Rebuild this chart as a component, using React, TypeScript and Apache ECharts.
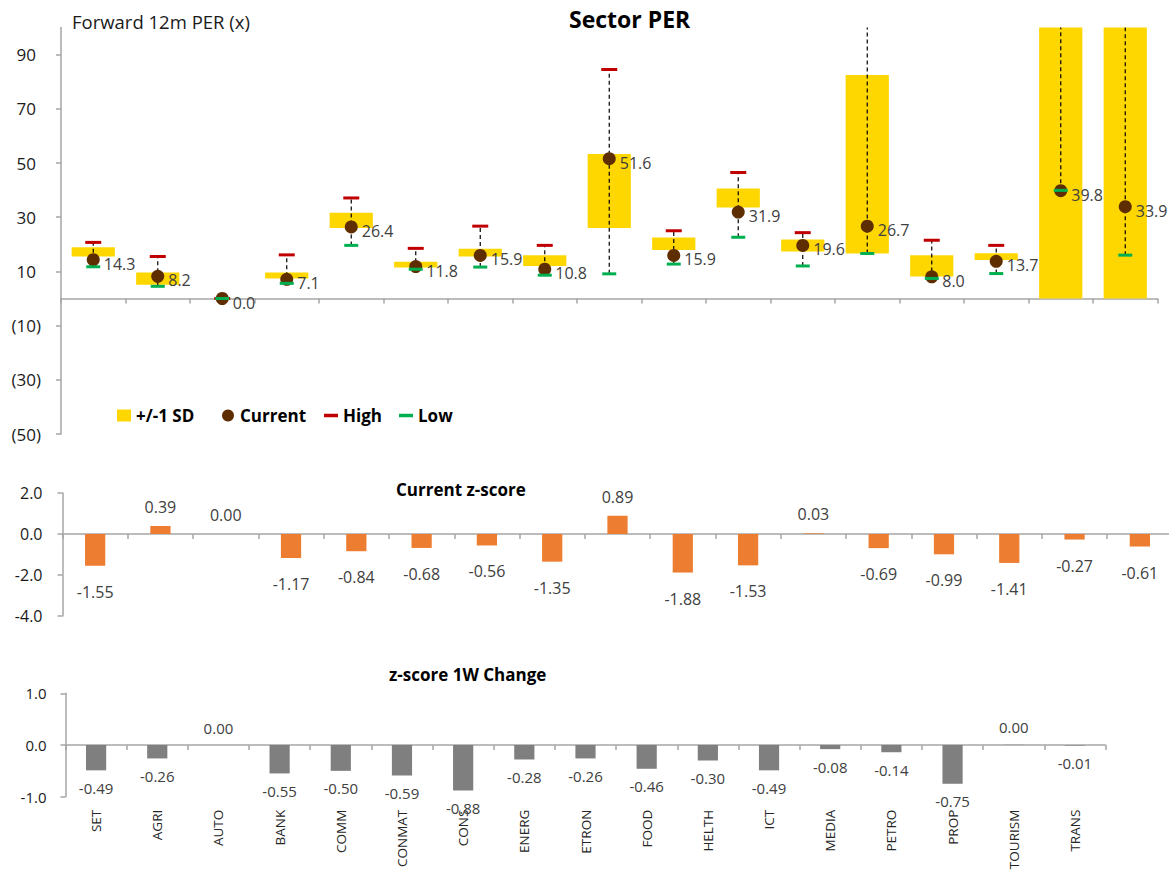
import React, { useEffect, useRef } from 'react';
import * as echarts from 'echarts';

const categories = ['SET', 'AGRI', 'AUTO', 'BANK', 'COMM', 'CONMAT', 'CONS', 'ENERG', 'ETRON', 'FOOD', 'HELTH', 'ICT', 'MEDIA', 'PETRO', 'PROP', 'TOURISM', 'TRANS'];
const currentPer = [14.3, 8.2, 0.0, 7.1, 26.4, 11.8, 15.9, 10.8, 51.6, 15.9, 31.9, 19.6, 26.7, 8.0, 13.7, 39.8, 33.9];
const sdLower = [15.5, 5.1, 0, 7.4, 26.0, 11.4, 15.5, 12.0, 26.0, 17.9, 33.6, 17.3, 16.6, 8.1, 14.2, -30, -25];
const sdUpper = [18.9, 9.6, 0, 9.6, 31.6, 13.6, 18.4, 16.0, 53.3, 22.5, 40.6, 21.8, 82.5, 16.0, 16.7, 130, 120];
const highPer = [20.7, 15.5, 0, 16.1, 37.1, 18.5, 26.7, 19.6, 84.5, 25.0, 46.5, 24.3, 150, 21.5, 19.6, 180, 160];
const lowPer = [11.7, 4.5, 0, 5.6, 19.6, 10.8, 11.6, 8.6, 9.1, 12.7, 22.6, 12.0, 16.6, 7.4, 9.2, 39.9, 16.0];
const zScore = [-1.55, 0.39, 0.0, -1.17, -0.84, -0.68, -0.56, -1.35, 0.89, -1.88, -1.53, 0.03, -0.69, -0.99, -1.41, -0.27, -0.61];
const zChange = [-0.49, -0.26, 0.0, -0.55, -0.5, -0.59, -0.88, -0.28, -0.26, -0.46, -0.3, -0.49, -0.08, -0.14, -0.75, 0.004, -0.01];
const perTicks = [-50, -30, -10, 10, 30, 50, 70, 90];
const legendNames = ['+/-1 SD', 'Current', 'High', 'Low'];
const PER_MIN = -50;
const PER_MAX = 100;

const FONT = "'Open Sans', sans-serif";
const AXIS_COLOR = '#A6A6A6';
const LABEL_COLOR = '#404040';

export default function App() {
  const ref = useRef<HTMLDivElement>(null);

  useEffect(() => {
    if (!ref.current) return;
    const chart = echarts.init(ref.current, null, { renderer: 'svg' });

    const axisLine = { show: true, lineStyle: { color: AXIS_COLOR, width: 1.5 } };
    const axisTick = { show: true, length: 5, lineStyle: { color: AXIS_COLOR, width: 1.5 } };
    const legendText = { fontFamily: FONT, fontSize: 17, fontWeight: 'bold', color: '#000' };
    const lineIcon = 'path://M0,0 L10,0 L10,2.5 L0,2.5 Z';
    const legendIcons = ['rect', 'circle', lineIcon, lineIcon];
    const legendLefts = [117, 222, 324, 399];

    const option: any = {
      animation: false,
      textStyle: { fontFamily: FONT },
      title: [
        { text: 'Sector PER', left: 569, top: 7, padding: 0, textStyle: { fontFamily: FONT, fontSize: 23, fontWeight: 'bold', color: '#000' } },
        { text: 'Forward 12m PER (x)', left: 72, top: 12, padding: 0, textStyle: { fontFamily: FONT, fontSize: 18.5, fontWeight: 'normal', color: '#1a1a1a' } },
        { text: 'Current z-score', left: 396, top: 481, padding: 0, textStyle: { fontFamily: FONT, fontSize: 17, fontWeight: 'bold', color: '#000' } },
        { text: 'z-score 1W Change', left: 389, top: 666, padding: 0, textStyle: { fontFamily: FONT, fontSize: 17, fontWeight: 'bold', color: '#000' } },
      ],
      legend: legendNames.map((name, i) => ({
        left: legendLefts[i],
        top: 407,
        padding: 0,
        itemWidth: 14,
        itemHeight: 12,
        textStyle: legendText,
        data: [{ name, icon: legendIcons[i] }],
      })),
      grid: [
        { left: 61, top: 27.5, width: 1096.5, height: 406.5, outerBoundsMode: 'none' },
        { left: 62.5, top: 493, width: 1110, height: 123, outerBoundsMode: 'none' },
        { left: 65.5, top: 693.3, width: 1040, height: 103.4, outerBoundsMode: 'none' },
      ],
      xAxis: [
        {
          type: 'category', gridIndex: 0, data: categories, boundaryGap: true,
          axisLine: { ...axisLine, onZero: true },
          axisTick: { ...axisTick, interval: 0 },
          axisLabel: { show: false, interval: 0 },
          splitLine: { show: false },
        },
        {
          type: 'category', gridIndex: 1, data: categories, boundaryGap: true,
          axisLine: { ...axisLine, onZero: true },
          axisTick: { ...axisTick, interval: 0 },
          axisLabel: { show: false, interval: 0 },
          splitLine: { show: false },
        },
        {
          type: 'category', gridIndex: 2, data: categories, boundaryGap: true,
          axisLine: { ...axisLine, onZero: true },
          axisTick: { ...axisTick, interval: 0 },
          axisLabel: { show: true, interval: 0, rotate: 90, margin: 13, fontFamily: FONT, fontSize: 13.5, color: '#262626' },
          splitLine: { show: false },
        },
      ],
      yAxis: [
        {
          type: 'value', gridIndex: 0, min: PER_MIN, max: PER_MAX,
          axisLine,
          axisTick: { ...axisTick, customValues: perTicks },
          axisLabel: {
            customValues: perTicks,
            margin: 20,
            fontFamily: FONT, fontSize: 17, color: '#1a1a1a',
            formatter: (v: number) => (v < 0 ? `(${-v})` : `{p|${v}}`),
            rich: { p: { padding: [0, 5, 0, 0], fontFamily: FONT, fontSize: 17, color: '#1a1a1a' } },
          },
          splitLine: { show: false },
        },
        {
          type: 'value', gridIndex: 1, min: -4, max: 2, interval: 2,
          axisLine, axisTick,
          axisLabel: { margin: 20, fontFamily: FONT, fontSize: 16, color: '#1a1a1a', formatter: (v: number) => v.toFixed(1) },
          splitLine: { show: false },
        },
        {
          type: 'value', gridIndex: 2, min: -1, max: 1, interval: 1,
          axisLine, axisTick,
          axisLabel: { margin: 19, fontFamily: FONT, fontSize: 15, color: '#1a1a1a', formatter: (v: number) => v.toFixed(1) },
          splitLine: { show: false },
        },
      ],
      series: [
        {
          name: 'sdBase', type: 'bar', xAxisIndex: 0, yAxisIndex: 0, stack: 'sd',
          data: sdLower, barWidth: '67%', itemStyle: { color: 'rgba(0,0,0,0)' },
          silent: true, z: 2, clip: true,
        },
        {
          name: '+/-1 SD', type: 'bar', xAxisIndex: 0, yAxisIndex: 0, stack: 'sd',
          data: sdUpper.map((u, i) => +(u - sdLower[i]).toFixed(2)), barWidth: '67%',
          itemStyle: { color: '#FFD700' }, z: 2, clip: true,
        },
        {
          name: 'range', type: 'custom', xAxisIndex: 0, yAxisIndex: 0,
          data: categories.map((c, i) => [i, lowPer[i], highPer[i]]),
          encode: { x: 0, y: [1, 2] },
          silent: true, z: 3,
          renderItem: (params: any, api: any) => {
            const i = api.value(0);
            const lo = Math.max(api.value(1), PER_MIN);
            const hi = Math.min(api.value(2), PER_MAX);
            const p1 = api.coord([i, lo]);
            const p2 = api.coord([i, hi]);
            return {
              type: 'line',
              shape: { x1: p1[0], y1: p1[1], x2: p2[0], y2: p2[1] },
              style: { stroke: '#000', lineWidth: 1.2, lineDash: [4, 3] },
            };
          },
        },
        {
          name: 'Current', type: 'scatter', xAxisIndex: 0, yAxisIndex: 0,
          data: currentPer, symbol: 'circle', symbolSize: 13,
          itemStyle: { color: '#5E2E00', opacity: 1 }, z: 4, clip: true,
          label: {
            show: true, position: 'right', distance: 4, offset: [0, 4],
            fontFamily: FONT, fontSize: 16, color: LABEL_COLOR,
            formatter: (p: any) => Number(p.value).toFixed(1),
          },
        },
        {
          name: 'High', type: 'scatter', xAxisIndex: 0, yAxisIndex: 0,
          data: highPer, symbol: 'rect', symbolSize: [16, 3],
          itemStyle: { color: '#C00000', opacity: 1 }, z: 5, clip: true,
        },
        {
          name: 'Low', type: 'scatter', xAxisIndex: 0, yAxisIndex: 0,
          data: lowPer, symbol: 'rect', symbolSize: [14, 3],
          itemStyle: { color: '#00B050', opacity: 1 }, z: 6, clip: true,
        },
        {
          name: 'Current z-score', type: 'bar', xAxisIndex: 1, yAxisIndex: 1,
          barWidth: '31%',
          itemStyle: { color: '#ED7D31' },
          data: zScore.map((v) => ({
            value: v,
            label: { position: v < 0 ? 'bottom' : 'top', distance: v < 0 ? 18 : 11 },
          })),
          label: {
            show: true, fontFamily: FONT, fontSize: 16, color: LABEL_COLOR,
            formatter: (p: any) => Number(p.value).toFixed(2),
          },
        },
        {
          name: 'z-score 1W Change', type: 'bar', xAxisIndex: 2, yAxisIndex: 2,
          barWidth: '33%',
          itemStyle: { color: '#7F7F7F' },
          data: zChange.map((v) => ({
            value: v,
            label: { position: v < 0 ? 'bottom' : 'top', distance: 10 },
          })),
          label: {
            show: true, fontFamily: FONT, fontSize: 15, color: LABEL_COLOR,
            formatter: (p: any) => Number(p.value).toFixed(2),
          },
        },
      ],
    };

    chart.setOption(option);
    return () => chart.dispose();
  }, []);

  return (
    <div
      ref={ref}
      style={{ position: 'absolute', left: 0, top: 0, width: 1169, height: 871, background: '#fff' }}
    />
  );
}
